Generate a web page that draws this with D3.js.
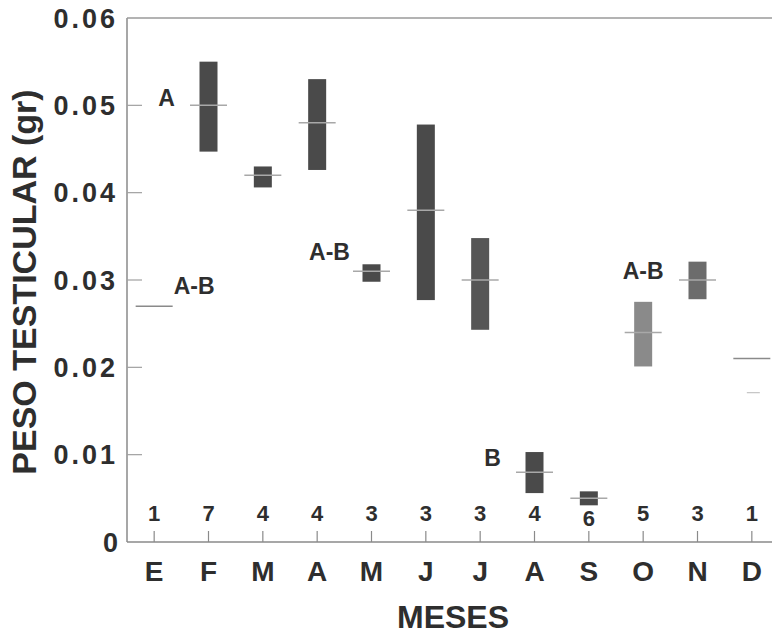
<!DOCTYPE html>
<html>
<head>
<meta charset="utf-8">
<script src="https://cdn.jsdelivr.net/npm/d3@7"></script>
<style>
  body { margin: 0; background: #fff; }
  svg text { font-family: "Liberation Sans", Arial, sans-serif; font-weight: bold; fill: #2e2e2e; }
</style>
</head>
<body>
<svg id="chart"></svg>
<script>
// months of the year (Spanish initials)
const months = ["E", "F", "M", "A", "M", "J", "J", "A", "S", "O", "N", "D"];
// sample size per month
const nSizes = [1, 7, 4, 4, 3, 3, 3, 4, 6, 5, 3, 1];
// mean testicular weight (gr)
const means = [0.027, 0.050, 0.042, 0.048, 0.031, 0.038, 0.030, 0.008, 0.005, 0.024, 0.030, 0.021];
// bar top / bottom (null = single observation)
const upper = [null, 0.055, 0.043, 0.053, 0.0318, 0.0478, 0.0348, 0.0103, 0.0058, 0.0275, 0.0321, null];
const lower = [null, 0.0447, 0.0406, 0.0426, 0.0298, 0.0277, 0.0243, 0.0056, 0.0042, 0.0201, 0.0278, null];
// significance groups: letter, month index, height, side of the bar
const groupLetters = ["A-B", "A", "A-B", "B", "A-B"];
const groupMonth = [0, 1, 4, 7, 9];
const groupValue = [0.0294, 0.0509, 0.0332, 0.0096, 0.0311];
const groupSide = ["right", "left", "left", "left", "above"];
// y ticks
const yTicks = [0, 0.01, 0.02, 0.03, 0.04, 0.05, 0.06];
// stray short mark under D
const strayMonth = [11];
const strayValue = [0.0171];

function main() {
  const width = 772, height = 637;
  const svg = d3.select("#chart").attr("width", width).attr("height", height);

  const x = d3.scaleBand().domain(d3.range(months.length)).range([127, 779]);
  const y = d3.scaleLinear().domain([0, 0.06]).range([542, 18]);
  const cx = i => x(i) + x.bandwidth() / 2;
  const barW = 18, meanW = 37;
  const shade = i => i === 9 ? "#8a8a8a" : i === 10 ? "#6c6c6c" : i === 6 ? "#565656" : "#4a4a4a";

  // frame: left axis, bottom axis, top line
  svg.append("line").attr("x1", 127).attr("x2", 127).attr("y1", 18).attr("y2", 542)
    .attr("stroke", "#8a8a8a").attr("stroke-width", 1.5);
  svg.append("line").attr("x1", 127).attr("x2", width).attr("y1", 542).attr("y2", 542)
    .attr("stroke", "#8a8a8a").attr("stroke-width", 1.5);
  svg.append("line").attr("x1", 127).attr("x2", width).attr("y1", 18).attr("y2", 18)
    .attr("stroke", "#9a9a9a").attr("stroke-width", 1.5);

  // y axis ticks (inward) and labels
  const yAxis = svg.append("g");
  yAxis.selectAll("line").data(yTicks.filter(d => d > 0 && d < 0.06)).enter()
    .append("line")
      .attr("x1", 127).attr("x2", 142)
      .attr("y1", d => y(d)).attr("y2", d => y(d))
      .attr("stroke", "#a0a0a0").attr("stroke-width", 1.2);
  yAxis.selectAll("text").data(yTicks).enter()
    .append("text")
      .attr("x", 118)
      .attr("y", d => y(d))
      .attr("dy", "0.36em")
      .attr("text-anchor", "end")
      .attr("font-size", 27)
      .attr("letter-spacing", d => d === 0 ? 0 : 3)
      .text(d => d === 0 ? "0" : d.toFixed(2));

  // x axis ticks (upward) and month labels
  const xAxis = svg.append("g");
  xAxis.selectAll("line").data(months).enter()
    .append("line")
      .attr("x1", (d, i) => cx(i)).attr("x2", (d, i) => cx(i))
      .attr("y1", 531).attr("y2", 542)
      .attr("stroke", "#8a8a8a").attr("stroke-width", 1.2);
  xAxis.selectAll("text").data(months).enter()
    .append("text")
      .attr("x", (d, i) => cx(i))
      .attr("y", 581)
      .attr("text-anchor", "middle")
      .attr("font-size", 28)
      .text(d => d);

  // sample sizes
  svg.append("g").selectAll("text").data(nSizes).enter()
    .append("text")
      .attr("x", (d, i) => cx(i))
      .attr("y", (d, i) => i === 8 ? 526 : 521)
      .attr("text-anchor", "middle")
      .attr("font-size", 22)
      .attr("fill", "#333")
      .text(d => d);

  // bars
  const idx = d3.range(months.length).filter(i => upper[i] !== null);
  svg.append("g").selectAll("rect").data(idx).enter()
    .append("rect")
      .attr("x", i => cx(i) - barW / 2)
      .attr("y", i => y(upper[i]))
      .attr("width", barW)
      .attr("height", i => y(lower[i]) - y(upper[i]))
      .attr("fill", i => shade(i));

  // mean lines
  svg.append("g").selectAll("line").data(means).enter()
    .append("line")
      .attr("x1", (d, i) => cx(i) - meanW / 2)
      .attr("x2", (d, i) => cx(i) + meanW / 2)
      .attr("y1", d => y(d)).attr("y2", d => y(d))
      .attr("stroke", (d, i) => upper[i] === null ? "#8a8a8a" : "#a8a8a8")
      .attr("stroke-width", 1.5);

  // stray mark
  svg.append("g").selectAll("line").data(strayValue).enter()
    .append("line")
      .attr("x1", (d, i) => cx(strayMonth[i]) - 5)
      .attr("x2", (d, i) => cx(strayMonth[i]) + 8)
      .attr("y1", d => y(d)).attr("y2", d => y(d))
      .attr("stroke", "#c4c4c4").attr("stroke-width", 1.2);

  // group letters
  svg.append("g").selectAll("text").data(groupLetters).enter()
    .append("text")
      .attr("x", (d, i) => {
        const c = cx(groupMonth[i]);
        return groupSide[i] === "right" ? c + 40 : groupSide[i] === "left" ? c - 42 : c;
      })
      .attr("y", (d, i) => y(groupValue[i]))
      .attr("dy", "0.36em")
      .attr("text-anchor", "middle")
      .attr("font-size", 23)
      .text(d => d);

  // axis titles
  svg.append("text")
    .attr("transform", "translate(36,282) rotate(-90)")
    .attr("text-anchor", "middle")
    .attr("font-size", 34)
    .text("PESO TESTICULAR (gr)");
  svg.append("text")
    .attr("x", 453)
    .attr("y", 628)
    .attr("text-anchor", "middle")
    .attr("font-size", 32)
    .text("MESES");
}

window.addEventListener("load", main);
</script>
</body>
</html>
